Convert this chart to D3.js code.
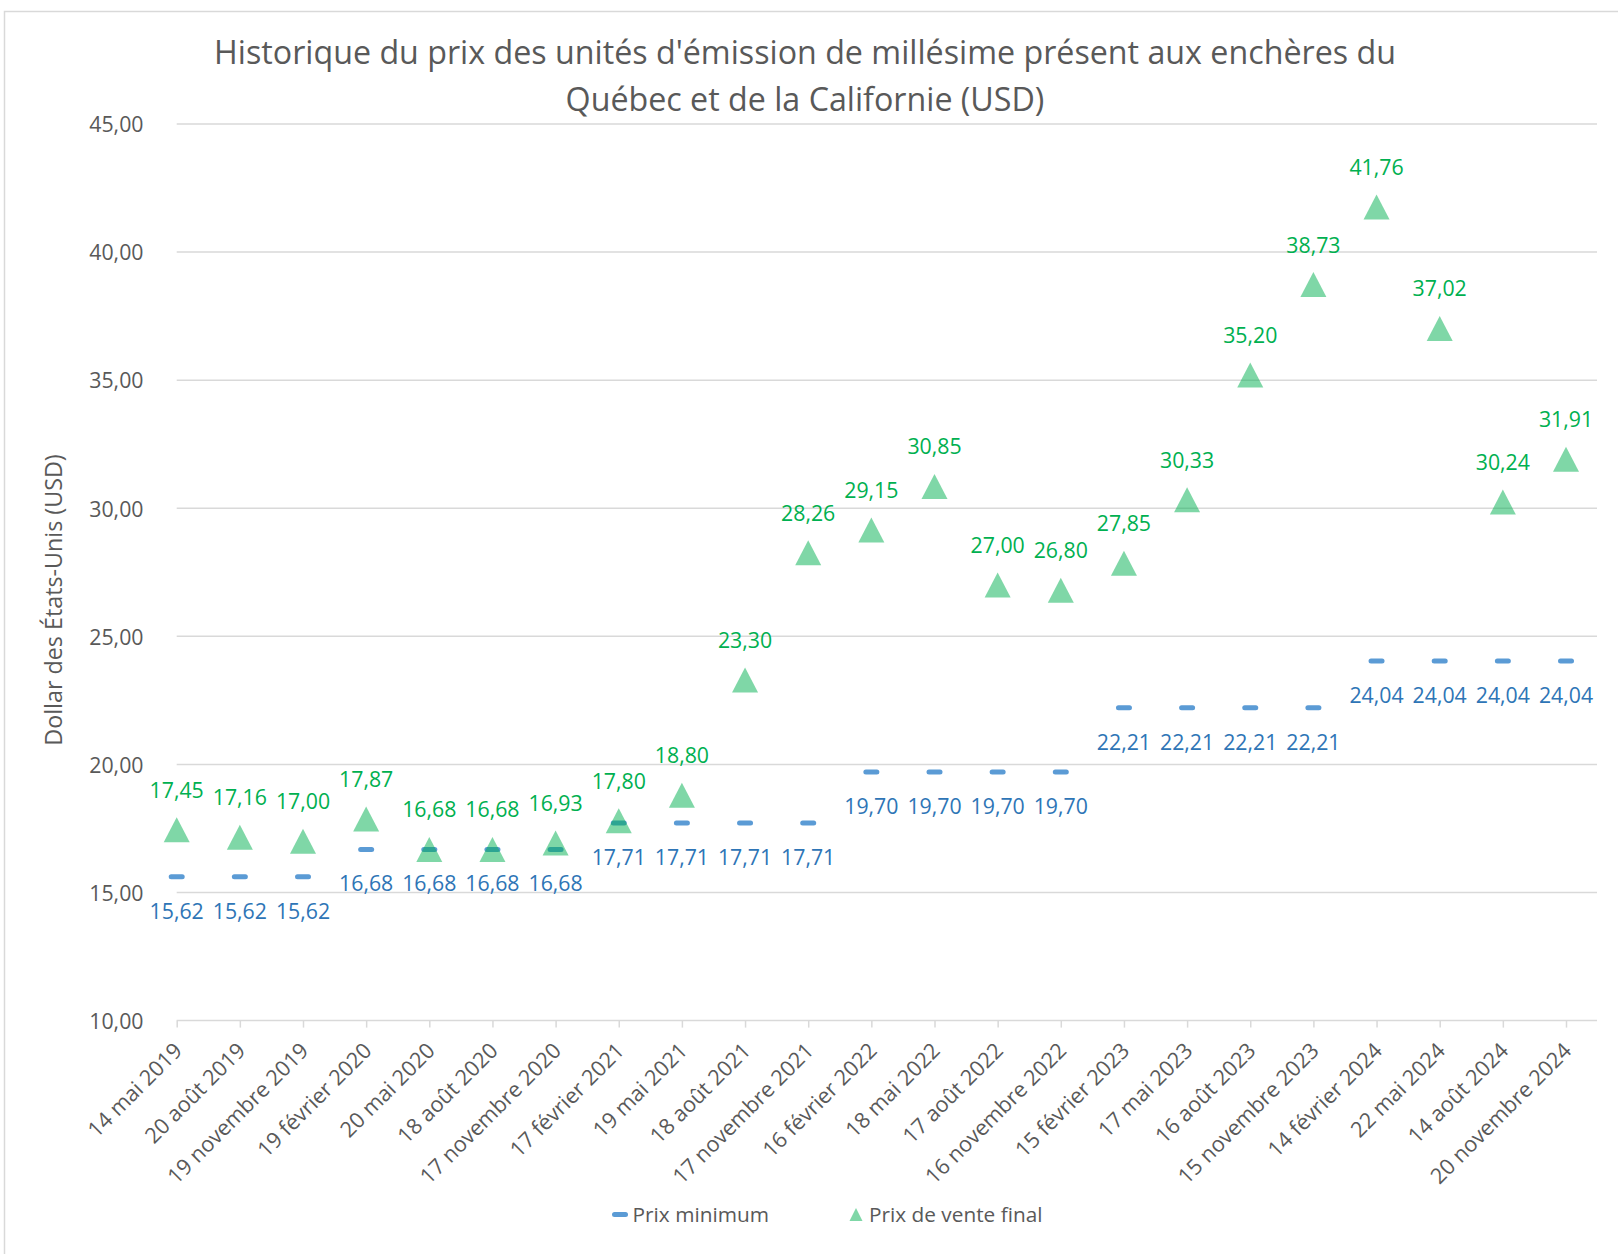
<!DOCTYPE html>
<html><head><meta charset="utf-8">
<script src="https://cdn.jsdelivr.net/npm/d3@7"></script>
<style>
html,body{margin:0;padding:0;background:#fff;}
svg{display:block;font-family:"Open Sans",sans-serif;}
</style></head>
<body><svg id="chart" width="1618" height="1254"></svg>
<script>
const categories = ["14 mai 2019","20 août 2019","19 novembre 2019","19 février 2020","20 mai 2020","18 août 2020","17 novembre 2020","17 février 2021","19 mai 2021","18 août 2021","17 novembre 2021","16 février 2022","18 mai 2022","17 août 2022","16 novembre 2022","15 février 2023","17 mai 2023","16 août 2023","15 novembre 2023","14 février 2024","22 mai 2024","14 août 2024","20 novembre 2024"];
const prixMinimum = [15.62,15.62,15.62,16.68,16.68,16.68,16.68,17.71,17.71,17.71,17.71,19.70,19.70,19.70,19.70,22.21,22.21,22.21,22.21,24.04,24.04,24.04,24.04];
const prixVenteFinal = [17.45,17.16,17.00,17.87,16.68,16.68,16.93,17.80,18.80,23.30,28.26,29.15,30.85,27.00,26.80,27.85,30.33,35.20,38.73,41.76,37.02,30.24,31.91];
const yTicks = [10,15,20,25,30,35,40,45];
const titleLines = ["Historique du prix des unités d'émission de millésime présent aux enchères du","Québec et de la Californie (USD)"];
const yAxisTitle = "Dollar des États-Unis (USD)";
const seriesNames = ["Prix minimum","Prix de vente final"];

const svg = d3.select("#chart");
const fmt = v => d3.format(".2f")(v).replace(".", ",");
const GRID = "#d9d9d9", TEXT = "#595959", BLUE = "#5B9BD5", BLUE_T = "#2E75B6", GREEN = "#00B050";
const FS = 21.3, FSX = 21.6, FSY = 23.3, FSL = 20.8;

// outer border
svg.append("rect").attr("x",4.5).attr("y",11.5).attr("width",1640).attr("height",1300)
  .attr("fill","none").attr("stroke",GRID).attr("stroke-width",1.5);

const x = d3.scalePoint().domain(categories).range([176.7, 1566]);
const y = d3.scaleLinear().domain([10,45]).range([1020.6, 124]);
const xLeft = 176.7, xRight = 1597;

// gridlines
svg.append("g").selectAll("line").data(yTicks.slice(1)).join("line")
  .attr("x1",xLeft).attr("x2",xRight).attr("y1",d=>y(d)).attr("y2",d=>y(d))
  .attr("stroke",GRID).attr("stroke-width",1.5);

// y axis labels
const yAxis = d3.axisLeft(y).tickValues(yTicks).tickFormat(fmt).tickSize(0).tickPadding(0);
const gy = svg.append("g").attr("transform","translate(143.5,1)").call(yAxis);
gy.select(".domain").remove();
gy.selectAll("text").attr("fill",TEXT).style("font-size",FS+"px").style("font-family","Open Sans");

// x axis
const xAxis = d3.axisBottom(x).tickSize(7).tickFormat(d=>d).tickSizeOuter(0);
const gx = svg.append("g").attr("transform",`translate(0,${y(10)})`).call(xAxis);
gx.select(".domain").attr("d",`M${xLeft},0H${xRight}`).attr("stroke",GRID).attr("stroke-width",1.5);
gx.selectAll(".tick line").attr("stroke",GRID).attr("stroke-width",1.5);
gx.selectAll(".tick text")
  .attr("fill",TEXT).style("font-size",FSX+"px").style("font-family","Open Sans")
  .attr("text-anchor","end").attr("x",0).attr("y",0).attr("dy","0.35em")
  .attr("transform","translate(1,26) rotate(-45)");

// minimum price dashes
svg.append("g").selectAll("rect").data(prixMinimum).join("rect")
  .attr("x",(d,i)=>x(categories[i])-8).attr("y",d=>y(d)-2.5)
  .attr("width",16).attr("height",5).attr("rx",2.5).attr("fill",BLUE);

// final price triangles
const tri = "M0,-12.5L13,12.5L-13,12.5Z";
svg.append("g").selectAll("path").data(prixVenteFinal).join("path")
  .attr("d",tri).attr("transform",(d,i)=>`translate(${x(categories[i])},${y(d)})`)
  .attr("fill",GREEN).attr("fill-opacity",0.5);

// labels
svg.append("g").selectAll("text").data(prixMinimum).join("text")
  .attr("x",(d,i)=>x(categories[i])).attr("y",d=>y(d)+34.5).attr("dy","0.35em")
  .attr("text-anchor","middle").attr("fill",BLUE_T).style("font-size",FS+"px").text(fmt);
svg.append("g").selectAll("text").data(prixVenteFinal).join("text")
  .attr("x",(d,i)=>x(categories[i])).attr("y",d=>y(d)-39.5).attr("dy","0.35em")
  .attr("text-anchor","middle").attr("fill",GREEN).style("font-size",FS+"px").text(fmt);

// y axis title
svg.append("text").attr("transform","translate(53.7,600) rotate(-90)")
  .attr("text-anchor","middle").attr("dy","0.35em").attr("fill",TEXT)
  .style("font-size",FSY+"px").text(yAxisTitle);

// title
const t1 = svg.append("text").attr("x",805).attr("y",64).attr("text-anchor","middle")
  .attr("fill",TEXT).style("font-size","28px").text(titleLines[0]);
const w = t1.node().getComputedTextLength();
const tfs = 28 * 1182 / w;
t1.style("font-size",tfs+"px");
svg.append("text").attr("x",805).attr("y",110.5).attr("text-anchor","middle")
  .attr("fill",TEXT).style("font-size",tfs+"px").text(titleLines[1]);

// legend
const lg = svg.append("g");
lg.append("rect").attr("x",612).attr("y",1212).attr("width",16).attr("height",5).attr("rx",2.5).attr("fill",BLUE);
lg.append("text").attr("x",632.6).attr("y",1214.5).attr("dy","0.35em").attr("fill",TEXT)
  .style("font-size",FSL+"px").text(seriesNames[0]);
lg.append("path").attr("d","M856,1208L862.5,1221L849.5,1221Z").attr("fill",GREEN).attr("fill-opacity",0.5);
lg.append("text").attr("x",869).attr("y",1214.5).attr("dy","0.35em").attr("fill",TEXT)
  .style("font-size",FSL+"px").text(seriesNames[1]);
</script></body></html>
